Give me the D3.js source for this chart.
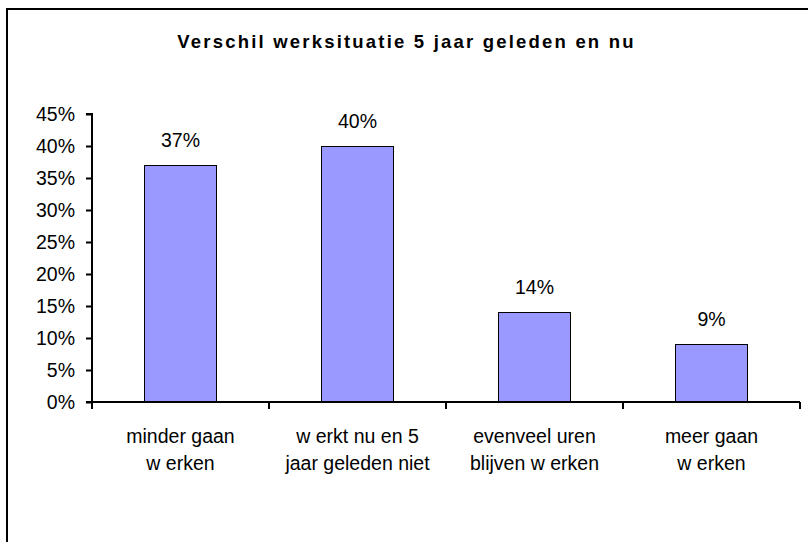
<!DOCTYPE html>
<html lang="nl">
<head>
    <meta charset="UTF-8">
    <title>Verschil werksituatie 5 jaar geleden en nu</title>
    <script src="https://d3js.org/d3.v7.min.js"></script>
    <style>
        body { margin: 0; background: #ffffff; }
        svg text { font-family: 'Liberation Sans', Arial, sans-serif; fill: #000000; }
    </style>
</head>
<body>
    <svg id="chart" width="808" height="542"></svg>
    <script>
        // data
        const categories = [
            ['minder gaan', 'w erken'],
            ['w erkt nu en 5', 'jaar geleden niet'],
            ['evenveel uren', 'blijven w erken'],
            ['meer gaan', 'w erken']
        ];
        const values = [0.37, 0.40, 0.14, 0.09];
        const valueLabels = ['37%', '40%', '14%', '9%'];
        const yTicks = [0, 0.05, 0.10, 0.15, 0.20, 0.25, 0.30, 0.35, 0.40, 0.45];

        const svg = d3.select('#chart');
        const fontSize = '19.5px';

        // outer frame (only left and top edge are inside the picture)
        svg.append('path')
            .attr('d', 'M7,542 L7,9 L808,9')
            .attr('fill', 'none')
            .attr('stroke', '#000')
            .attr('stroke-width', 2);

        svg.append('text')
            .attr('x', 406.5)
            .attr('y', 48)
            .attr('text-anchor', 'middle')
            .style('font-size', '18.5px')
            .style('font-weight', 'bold')
            .style('letter-spacing', '2.2px')
            .text('Verschil werksituatie 5 jaar geleden en nu');

        const plot = { left: 92, right: 800, top: 114, bottom: 402 };

        const x = d3.scaleBand()
            .domain(d3.range(categories.length))
            .range([plot.left, plot.right])
            .paddingInner(0.593)
            .paddingOuter(0.2965);

        const y = d3.scaleLinear()
            .domain([0, 0.45])
            .range([plot.bottom, plot.top]);

        // bars
        svg.selectAll('rect.bar')
            .data(values)
            .enter()
            .append('rect')
            .attr('class', 'bar')
            .attr('x', (d, i) => Math.round(x(i)) + 0.5)
            .attr('y', d => Math.round(y(d)) + 0.5)
            .attr('width', Math.round(x.bandwidth()))
            .attr('height', d => Math.round(y(0)) - Math.round(y(d)))
            .attr('fill', '#9999ff')
            .attr('stroke', '#000')
            .attr('stroke-width', 1);

        // value labels
        svg.selectAll('text.val')
            .data(values)
            .enter()
            .append('text')
            .attr('class', 'val')
            .attr('x', (d, i) => x(i) + x.bandwidth() / 2)
            .attr('y', d => y(d) - 18)
            .attr('text-anchor', 'middle')
            .style('font-size', fontSize)
            .text((d, i) => valueLabels[i]);

        // y axis
        const yAxis = d3.axisLeft(y)
            .tickValues(yTicks)
            .tickFormat(d3.format('.0%'))
            .tickSize(6)
            .tickPadding(11);

        const yG = svg.append('g')
            .attr('transform', `translate(${plot.left},0)`)
            .call(yAxis);
        yG.select('.domain').attr('stroke-width', 2).attr('d', `M-6,${plot.top}H0V${plot.bottom}`);
        yG.selectAll('.tick line').attr('stroke-width', 2);
        yG.selectAll('.tick text')
            .attr('fill', '#000')
            .style('font-size', fontSize)
            .style('font-family', "'Liberation Sans', Arial, sans-serif");

        // x axis with ticks at the category boundaries
        const step = x.step();
        const boundaries = d3.range(categories.length + 1).map(i => plot.left + i * step);
        svg.append('line')
            .attr('x1', plot.left - 6).attr('x2', plot.right)
            .attr('y1', plot.bottom).attr('y2', plot.bottom)
            .attr('stroke', '#000').attr('stroke-width', 2);
        svg.selectAll('line.xtick')
            .data(boundaries)
            .enter()
            .append('line')
            .attr('class', 'xtick')
            .attr('x1', d => d).attr('x2', d => d)
            .attr('y1', plot.bottom).attr('y2', plot.bottom + 7)
            .attr('stroke', '#000').attr('stroke-width', 2);

        // category labels, two lines each
        const catG = svg.selectAll('text.cat')
            .data(categories)
            .enter()
            .append('text')
            .attr('class', 'cat')
            .attr('text-anchor', 'middle')
            .style('font-size', fontSize);
        catG.selectAll('tspan')
            .data((d, i) => d.map(t => ({ t, i })))
            .enter()
            .append('tspan')
            .attr('x', d => x(d.i) + x.bandwidth() / 2)
            .attr('y', (d, j) => 443 + j * 27)
            .text(d => d.t);
    </script>
</body>
</html>
